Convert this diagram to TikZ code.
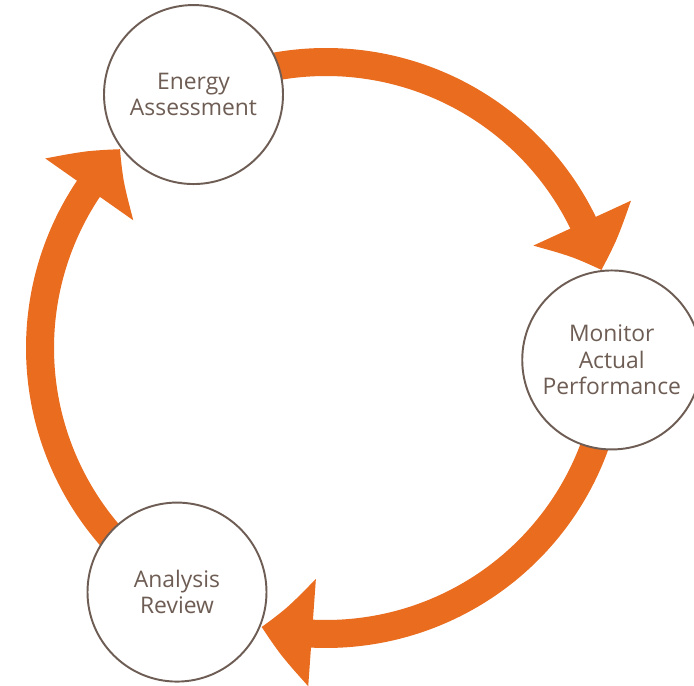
\documentclass[tikz,border=0pt]{standalone}
\usepackage{fontspec}
\setmainfont{Open Sans}
\usepackage{tikz}
\usetikzlibrary{arrows.meta,bending,calc,backgrounds}
\definecolor{cycleorange}{HTML}{E96C1F}
\definecolor{ringbrown}{HTML}{6E5D54}
\tikzset{
    every picture/.style={line join=round},
    stagenode/.style={draw=ringbrown,circle,fill=white,line width=1.1pt,
      minimum size=3.58cm,inner sep=0pt,text=ringbrown,align=center,
      font=\fontsize{13}{15}\selectfont},
    cyclearrow/.style={draw=cycleorange,line width=0.56cm,
      -{Triangle[length=1.02cm,width=2.08cm,bend]}}
}

\begin{document}
\begin{tikzpicture}
  \useasboundingbox (0,0) rectangle (13.88,13.72);
  \coordinate (hub) at (6.52,6.76);

  \node[stagenode] (assess) at ($(hub)+(117.6:5.72)$) {Energy\\Assessment};
  \node[stagenode] (monitor) at ($(hub)+(-2.4:5.72)$) {Monitor\\Actual\\Performance};
  \node[stagenode] (review) at ($(hub)+(238.6:5.72)$) {Analysis\\Review};

  \begin{scope}[on background layer]
    \draw[cyclearrow] (assess.center) arc[start angle=117.6,end angle=15.8,radius=5.72];
    \draw[cyclearrow] (monitor.center) arc[start angle=-2.4,end angle=-103,radius=5.72];
    \draw[cyclearrow] (review.center) arc[start angle=238.6,end angle=136,radius=5.72];
  \end{scope}
\end{tikzpicture}
\end{document}
